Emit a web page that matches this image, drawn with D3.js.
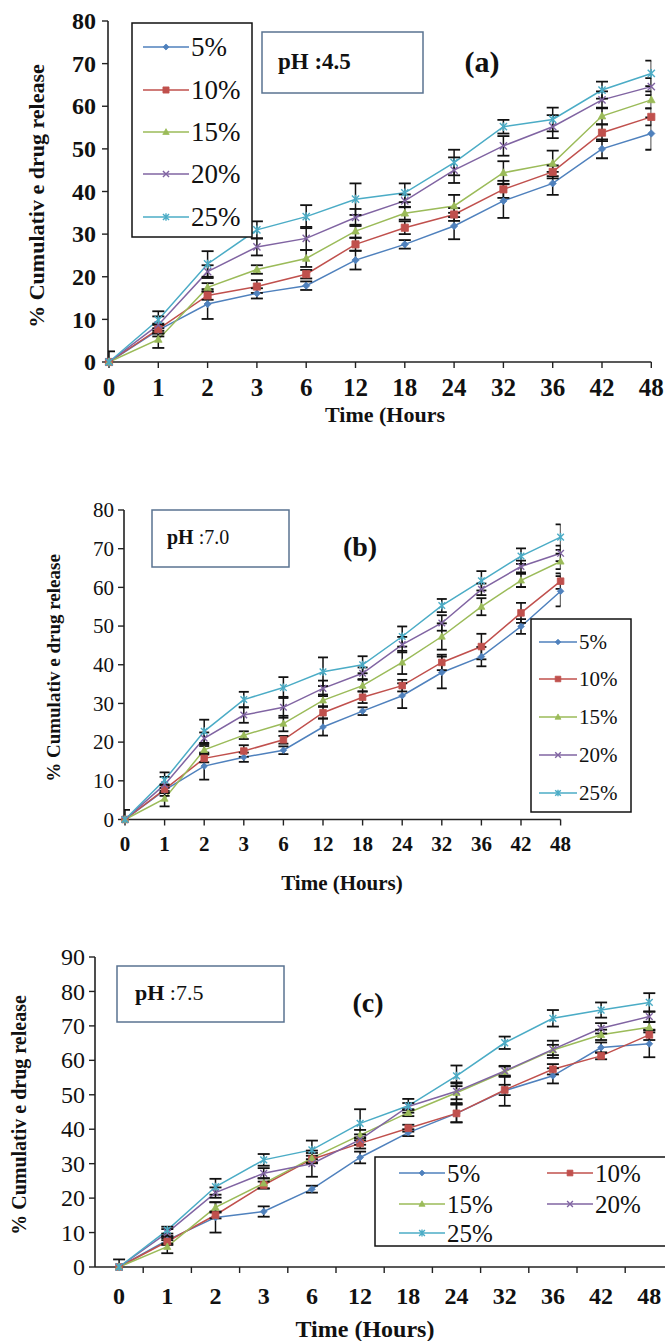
<!DOCTYPE html>
<html>
<head>
<meta charset="utf-8">
<script src="https://cdn.jsdelivr.net/npm/d3@7"></script>
<style>
  html, body { margin: 0; padding: 0; background: #fff; }
  svg { display: block; }
  text { font-family: "Liberation Serif", "Times New Roman", serif; fill: #111; }
</style>
</head>
<body>
<svg id="fig" width="665" height="1341"></svg>
<script>
// Sampling times (hours) shared by all three panels
const hours = ["0", "1", "2", "3", "6", "12", "18", "24", "32", "36", "42", "48"];
const seriesNames = ["5%", "10%", "15%", "20%", "25%"];
const seriesColors = ["#4F81BD", "#C0504D", "#9BBB59", "#8064A2", "#4BACC6"];
const seriesMarkers = ["diamond", "square", "triangle", "cross", "star"];

// pH 4.5 — cumulative release (%) and error
const ph45_5  = [0, 7.5, 13.6, 16.1, 17.9, 23.9, 27.6, 31.9, 37.8, 41.9, 50.0, 53.6];
const ph45_10 = [0, 7.7, 15.6, 17.7, 20.6, 27.6, 31.5, 34.6, 40.5, 44.6, 53.8, 57.5];
const ph45_15 = [0, 5.3, 17.5, 21.7, 24.3, 30.7, 34.9, 36.6, 44.4, 46.6, 57.7, 61.5];
const ph45_20 = [0, 8.7, 21.2, 27.0, 29.0, 33.9, 37.8, 45.0, 50.7, 55.2, 61.5, 64.6];
const ph45_25 = [0, 9.9, 23.0, 31.0, 34.1, 38.2, 39.7, 46.8, 55.2, 56.9, 63.8, 67.7];
const ph45_err5  = [0, 1.5, 3.5, 1.2, 1.0, 2.2, 1.0, 3.1, 4.0, 2.7, 2.2, 3.8];
const ph45_err10 = [0, 1.0, 1.0, 1.5, 1.0, 1.5, 1.5, 1.5, 2.0, 1.5, 2.0, 2.0];
const ph45_err15 = [0, 2.0, 1.0, 1.0, 2.0, 1.5, 1.5, 2.6, 2.7, 3.0, 2.0, 2.0];
const ph45_err20 = [0, 2.0, 1.5, 2.0, 2.7, 2.0, 1.5, 3.0, 2.3, 2.7, 2.0, 2.0];
const ph45_err25 = [2.5, 2.0, 3.0, 2.0, 2.7, 3.7, 2.2, 3.0, 1.6, 2.8, 2.0, 3.0];

// pH 7.0
const ph70_5  = [0, 7.6, 13.8, 16.1, 17.9, 23.9, 28.0, 32.0, 38.0, 42.1, 49.9, 59.0];
const ph70_10 = [0, 7.8, 15.8, 17.7, 20.6, 27.6, 31.6, 34.6, 40.6, 44.7, 53.4, 61.6];
const ph70_15 = [0, 5.4, 18.0, 21.8, 24.8, 30.8, 34.6, 40.6, 47.3, 55.0, 61.8, 66.7];
const ph70_20 = [0, 9.0, 21.0, 27.0, 29.0, 33.9, 37.8, 45.2, 50.8, 59.5, 65.4, 68.8];
const ph70_25 = [0, 10.2, 22.8, 31.0, 34.1, 38.2, 40.0, 47.3, 55.3, 61.7, 68.1, 73.0];
const ph70_err5  = [0, 1.5, 3.5, 1.2, 1.0, 2.2, 1.0, 3.2, 4.1, 2.5, 1.9, 3.9];
const ph70_err10 = [0, 1.0, 1.0, 1.5, 1.0, 1.5, 1.5, 1.5, 2.0, 3.3, 2.6, 2.0];
const ph70_err15 = [0, 2.0, 1.0, 1.0, 2.0, 1.5, 1.5, 3.0, 3.4, 2.2, 1.7, 2.0];
const ph70_err20 = [0, 2.0, 1.5, 2.0, 2.7, 2.0, 1.5, 2.0, 2.0, 1.5, 1.5, 2.0];
const ph70_err25 = [2.5, 2.0, 3.0, 2.0, 2.7, 3.7, 2.2, 2.6, 1.7, 2.5, 2.0, 3.3];

// pH 7.5
const ph75_5  = [0, 7.8, 14.4, 16.1, 22.6, 31.8, 39.0, 44.6, 51.2, 55.5, 63.7, 64.8];
const ph75_10 = [0, 7.4, 15.1, 23.8, 31.3, 35.9, 40.3, 44.6, 51.4, 57.4, 61.3, 67.4];
const ph75_15 = [0, 5.9, 17.3, 24.3, 31.6, 38.3, 44.8, 50.6, 56.7, 63.0, 67.4, 69.6];
const ph75_20 = [0, 10.0, 21.6, 27.2, 30.0, 37.0, 46.6, 51.0, 56.9, 63.2, 69.3, 72.7];
const ph75_25 = [0, 10.7, 23.3, 31.1, 34.0, 41.7, 46.8, 55.5, 65.1, 72.2, 74.6, 76.8];
const ph75_err5  = [0, 1.0, 4.4, 1.5, 1.0, 1.7, 1.0, 2.6, 4.4, 2.2, 1.5, 3.9];
const ph75_err10 = [0, 1.0, 1.0, 1.0, 1.0, 1.5, 1.0, 2.6, 1.5, 1.5, 1.0, 1.5];
const ph75_err15 = [0, 1.9, 1.5, 1.5, 1.5, 1.5, 1.0, 3.0, 1.5, 1.5, 1.5, 1.5];
const ph75_err20 = [0, 1.0, 1.5, 1.5, 3.8, 1.5, 1.0, 2.3, 1.5, 2.5, 1.5, 1.5];
const ph75_err25 = [2.2, 1.0, 2.3, 1.7, 2.7, 4.1, 2.0, 3.0, 1.8, 2.4, 2.2, 2.7];

const yTicksA = [0, 10, 20, 30, 40, 50, 60, 70, 80];
const yTicksC = [0, 10, 20, 30, 40, 50, 60, 70, 80, 90];

const svg = d3.select("#fig");
const FONT = "'Liberation Serif', 'Times New Roman', serif";

function markerPath(kind, s) {
  switch (kind) {
    case "diamond": return `M0,${-s}L${s},0L0,${s}L${-s},0Z`;
    case "square": return `M${-s},${-s}H${s}V${s}H${-s}Z`;
    case "triangle": return `M0,${-s * 1.1}L${s * 1.05},${s * 0.8}L${-s * 1.05},${s * 0.8}Z`;
    case "cross": return `M${-s},${-s}L${s},${s}M${s},${-s}L${-s},${s}`;
    case "star": return `M${-s},${-s}L${s},${s}M${s},${-s}L${-s},${s}M0,${-s * 1.2}V${s * 1.2}`;
  }
}
function drawMarker(g, kind, color, x, y, s) {
  const filled = kind === "diamond" || kind === "square" || kind === "triangle";
  g.append("path")
    .attr("transform", `translate(${x},${y})`)
    .attr("d", markerPath(kind, s))
    .attr("fill", filled ? color : "none")
    .attr("stroke", color)
    .attr("stroke-width", filled ? 0.8 : 1.4);
}

function drawPanel(cfg, idx) {
  const g = svg.append("g");
  const y = d3.scaleLinear().domain([0, cfg.yMax]).range([cfg.yBottom, cfg.yTop]);
  let xPos, xTickPos, xLeft, xRight;
  if (cfg.onTicks) {
    const x = d3.scalePoint().domain(hours).range([cfg.xStart, cfg.xStart + cfg.step * (hours.length - 1)]);
    xPos = d => x(d);
    xTickPos = hours.map(h => x(h));
    xLeft = cfg.axisX; xRight = x(hours[hours.length - 1]);
  } else {
    const x = d3.scaleBand().domain(hours).range([cfg.axisX, cfg.axisX + cfg.step * hours.length]).padding(0);
    xPos = d => x(d) + x.bandwidth() / 2;
    xTickPos = hours.map(h => x(h) + x.bandwidth()).slice(0, hours.length);
    xLeft = cfg.axisX; xRight = cfg.axisX + cfg.step * hours.length;
  }

  // axes
  const axisColor = "#222";
  g.append("line").attr("x1", cfg.axisX).attr("x2", cfg.axisX)
    .attr("y1", y(cfg.yMax)).attr("y2", y(0)).attr("stroke", axisColor).attr("stroke-width", 1.6);
  g.append("line").attr("x1", cfg.axisX).attr("x2", xRight)
    .attr("y1", y(0)).attr("y2", y(0)).attr("stroke", axisColor).attr("stroke-width", 1.6);
  cfg.yTicks.forEach(t => {
    g.append("line").attr("x1", cfg.axisX - 6).attr("x2", cfg.axisX)
      .attr("y1", y(t)).attr("y2", y(t)).attr("stroke", axisColor).attr("stroke-width", 1.4);
    g.append("text").attr("x", cfg.axisX - cfg.yLabelGap).attr("y", y(t))
      .attr("dy", "0.34em").attr("text-anchor", "end")
      .attr("font-size", cfg.yTickFont).attr("font-weight", cfg.yTickBold ? "bold" : "normal")
      .text(t);
  });
  xTickPos.forEach(px => {
    g.append("line").attr("x1", px).attr("x2", px)
      .attr("y1", y(0)).attr("y2", y(0) + 6).attr("stroke", axisColor).attr("stroke-width", 1.4);
  });
  hours.forEach(h => {
    g.append("text").attr("x", xPos(h)).attr("y", y(0) + cfg.xLabelDy)
      .attr("text-anchor", "middle").attr("font-size", cfg.xTickFont).attr("font-weight", "bold")
      .text(h);
  });

  // axis titles
  g.append("text")
    .attr("transform", `translate(${cfg.yTitleX},${cfg.yTitleY}) rotate(-90)`)
    .attr("text-anchor", "middle").attr("font-size", cfg.yTitleFont).attr("font-weight", "bold")
    .text("% Cumulativ e drug release");
  g.append("text").attr("x", cfg.xTitleX).attr("y", cfg.xTitleY)
    .attr("text-anchor", "middle").attr("font-size", cfg.xTitleFont).attr("font-weight", "bold")
    .text(cfg.xTitle);

  // clip for error bars
  const clipId = "clip" + idx;
  svg.append("clipPath").attr("id", clipId).append("rect")
    .attr("x", xLeft).attr("y", 0).attr("width", xRight - xLeft).attr("height", y(0) + 1);

  const line = d3.line().x((d, i) => xPos(hours[i])).y(d => y(d));
  cfg.series.forEach((vals, k) => {
    g.append("path").attr("d", line(vals)).attr("fill", "none")
      .attr("stroke", seriesColors[k]).attr("stroke-width", 1.5);
  });
  const eg = g.append("g").attr("clip-path", `url(#${clipId})`);
  cfg.series.forEach((vals, k) => {
    vals.forEach((v, i) => {
      const e = cfg.errors[k][i];
      if (!e) return;
      const px = xPos(hours[i]);
      const y1 = y(v + e), y2 = y(Math.max(0, v - e));
      eg.append("line").attr("x1", px).attr("x2", px).attr("y1", y1).attr("y2", y2)
        .attr("stroke", "#111").attr("stroke-width", 1.5);
      [y1, y(v - e)].forEach(yy => {
        eg.append("line").attr("x1", px - cfg.cap).attr("x2", px + cfg.cap).attr("y1", yy).attr("y2", yy)
          .attr("stroke", "#111").attr("stroke-width", 1.8);
      });
    });
  });
  cfg.series.forEach((vals, k) => {
    vals.forEach((v, i) => drawMarker(g, seriesMarkers[k], seriesColors[k], xPos(hours[i]), y(v), cfg.markerSize));
  });

  // pH box
  const pb = cfg.phBox;
  g.append("rect").attr("x", pb.x).attr("y", pb.y).attr("width", pb.w).attr("height", pb.h)
    .attr("fill", "#fff").attr("stroke", "#5A7391").attr("stroke-width", 1.5);
  const pt = g.append("text").attr("x", pb.tx).attr("y", pb.ty).attr("font-size", pb.font);
  pt.append("tspan").attr("font-weight", "bold").text("pH");
  pt.append("tspan").attr("font-weight", pb.valueBold ? "bold" : "normal").text(" :" + pb.value);

  // panel letter
  g.append("text").attr("x", cfg.letter.x).attr("y", cfg.letter.y).attr("text-anchor", "middle")
    .attr("font-size", cfg.letter.font).attr("font-weight", "bold").text(cfg.letter.text);

  // legend
  const lg = cfg.legend;
  g.append("rect").attr("x", lg.x).attr("y", lg.y).attr("width", lg.w).attr("height", lg.h)
    .attr("fill", "#fff").attr("stroke", "#111").attr("stroke-width", 1.5);
  seriesNames.forEach((name, k) => {
    const p = lg.pos[k];
    g.append("line").attr("x1", p[0]).attr("x2", p[0] + lg.lineLen).attr("y1", p[1]).attr("y2", p[1])
      .attr("stroke", seriesColors[k]).attr("stroke-width", 1.5);
    drawMarker(g, seriesMarkers[k], seriesColors[k], p[0] + lg.lineLen / 2, p[1], cfg.markerSize * 0.85);
    g.append("text").attr("x", p[0] + lg.lineLen + 2).attr("y", p[1]).attr("dy", "0.34em")
      .attr("font-size", lg.font).text(name);
  });
}

const panels = [
  {
    series: [ph45_5, ph45_10, ph45_15, ph45_20, ph45_25],
    errors: [ph45_err5, ph45_err10, ph45_err15, ph45_err20, ph45_err25],
    yMax: 80, yTicks: yTicksA, yTop: 21, yBottom: 362,
    onTicks: true, axisX: 108, xStart: 109, step: 49.3,
    yTickFont: 24, yTickBold: true, yLabelGap: 12, xTickFont: 25, xLabelDy: 34,
    yTitleX: 44, yTitleY: 196, yTitleFont: 22,
    xTitle: "Time (Hours", xTitleX: 385, xTitleY: 422, xTitleFont: 22,
    cap: 6, markerSize: 3.6,
    phBox: { x: 262, y: 32, w: 161, h: 61, tx: 278, ty: 69, font: 23, value: "4.5", valueBold: true },
    letter: { x: 482, y: 72, font: 30, text: "(a)" },
    legend: { x: 132, y: 23, w: 120, h: 214, lineLen: 46, font: 27,
              pos: [[143, 47], [143, 90], [143, 132], [143, 174], [143, 217]] }
  },
  {
    series: [ph70_5, ph70_10, ph70_15, ph70_20, ph70_25],
    errors: [ph70_err5, ph70_err10, ph70_err15, ph70_err20, ph70_err25],
    yMax: 80, yTicks: yTicksA, yTop: 510, yBottom: 819.5,
    onTicks: true, axisX: 124, xStart: 125, step: 39.6,
    yTickFont: 21, yTickBold: false, yLabelGap: 10, xTickFont: 21, xLabelDy: 31,
    yTitleX: 60, yTitleY: 668, yTitleFont: 19,
    xTitle: "Time (Hours)", xTitleX: 342, xTitleY: 890, xTitleFont: 21,
    cap: 5, markerSize: 3.3,
    phBox: { x: 152, y: 510, w: 137, h: 57, tx: 167, ty: 544, font: 20, value: "7.0", valueBold: false },
    letter: { x: 360, y: 556, font: 28, text: "(b)" },
    legend: { x: 531, y: 619, w: 100, h: 193, lineLen: 38, font: 21,
              pos: [[539, 642], [539, 679], [539, 717], [539, 755], [539, 793]] }
  },
  {
    series: [ph75_5, ph75_10, ph75_15, ph75_20, ph75_25],
    errors: [ph75_err5, ph75_err10, ph75_err15, ph75_err20, ph75_err25],
    yMax: 90, yTicks: yTicksC, yTop: 957, yBottom: 1267,
    onTicks: false, axisX: 95, step: 48.2,
    yTickFont: 24, yTickBold: false, yLabelGap: 10, xTickFont: 24, xLabelDy: 37,
    yTitleX: 26, yTitleY: 1115, yTitleFont: 20,
    xTitle: "Time (Hours)", xTitleX: 365, xTitleY: 1337, xTitleFont: 24,
    cap: 6, markerSize: 3.4,
    phBox: { x: 117, y: 966, w: 167, h: 56, tx: 135, ty: 1000, font: 22, value: "7.5", valueBold: false },
    letter: { x: 368, y: 1012, font: 28, text: "(c)" },
    legend: { x: 375, y: 1157, w: 310, h: 89, lineLen: 46, font: 25,
              pos: [[399, 1173], [547, 1173], [399, 1204], [547, 1204], [399, 1233]] }
  }
];

panels.forEach((p, i) => drawPanel(p, i));
</script>
</body>
</html>
